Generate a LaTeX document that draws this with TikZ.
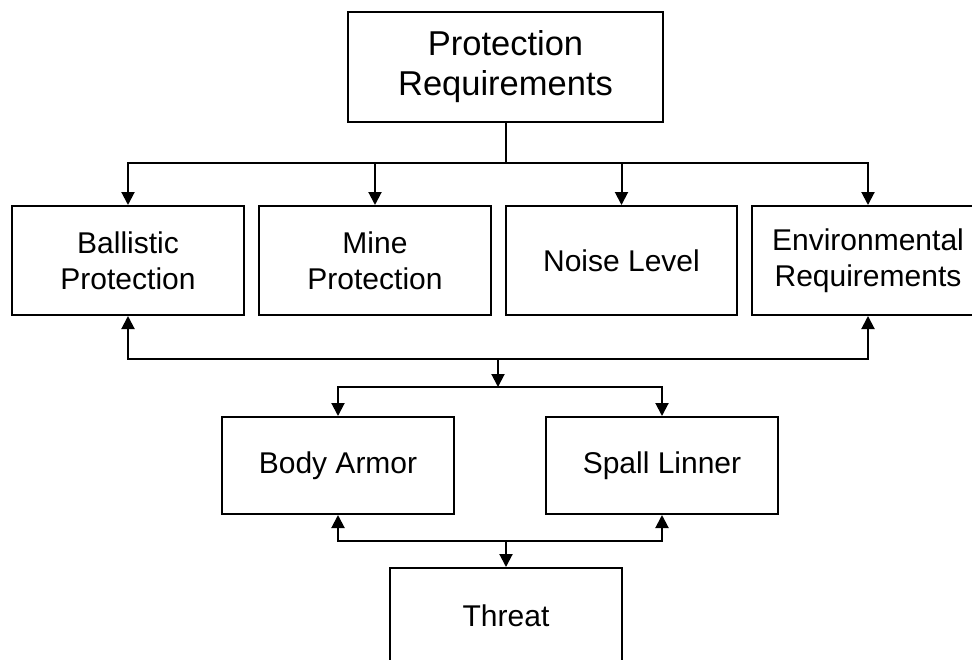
\documentclass[tikz,border=0pt]{standalone}
\usepackage{fontspec}
\setmainfont{Liberation Sans}
\usetikzlibrary{arrows.meta}
\begin{document}
\begin{tikzpicture}[x=1pt,y=-1pt,
  box/.style={draw,line width=2pt,align=center,inner sep=0pt,minimum width=232pt,minimum height=109pt,
    font=\fontsize{30}{36}\selectfont},
  conn/.style={line width=2pt},
  arr/.style={line width=2pt,-{Triangle[width=13pt,length=13pt]}}]
\useasboundingbox (0,0) rectangle (972,659);
\clip (0,0) rectangle (972,659);
\fill[white] (0,0) rectangle (972,659);
\node[box,minimum width=315pt,minimum height=110pt,font=\fontsize{34.5}{40}\selectfont] (top) at (505.5,67) {Protection\\Requirements};
\node[box] (bal) at (128,260.5) {Ballistic\\Protection};
\node[box] (mine) at (375,260.5) {Mine\\Protection};
\node[box,minimum width=231pt] (noise) at (621.5,260.5) {Noise Level};
\node[box] (env) at (868,260.5) {Environmental\\Requirements};
\node[box,minimum height=97pt] (body) at (338,465.5) {Body Armor};
\node[box,minimum height=97pt] (spall) at (662,465.5) {Spall Linner};
\node[box,minimum height=109pt,text height=0pt] (threat) at (506,622.5) {\raisebox{-0.5ex}{Threat}};
\coordinate (b1) at (top.south |- 0,163);
\coordinate (j2) at (498,359);
\coordinate (j3) at (498,387);
\coordinate (j4) at (506,541);
\draw[conn] (top.south) -- (b1);
\draw[arr] (b1) -| (bal.north);
\draw[arr] (b1) -| (mine.north);
\draw[arr] (b1) -| (noise.north);
\draw[arr] (b1) -| (env.north);
\draw[arr] (j2) -| (bal.south);
\draw[arr] (j2) -| (env.south);
\draw[arr] (j2) -- (j3);
\draw[arr] (j3) -| (body.north);
\draw[arr] (j3) -| (spall.north);
\draw[arr] (j4) -| (body.south);
\draw[arr] (j4) -| (spall.south);
\draw[arr] (j4) -- (threat.north);
\end{tikzpicture}
\end{document}
